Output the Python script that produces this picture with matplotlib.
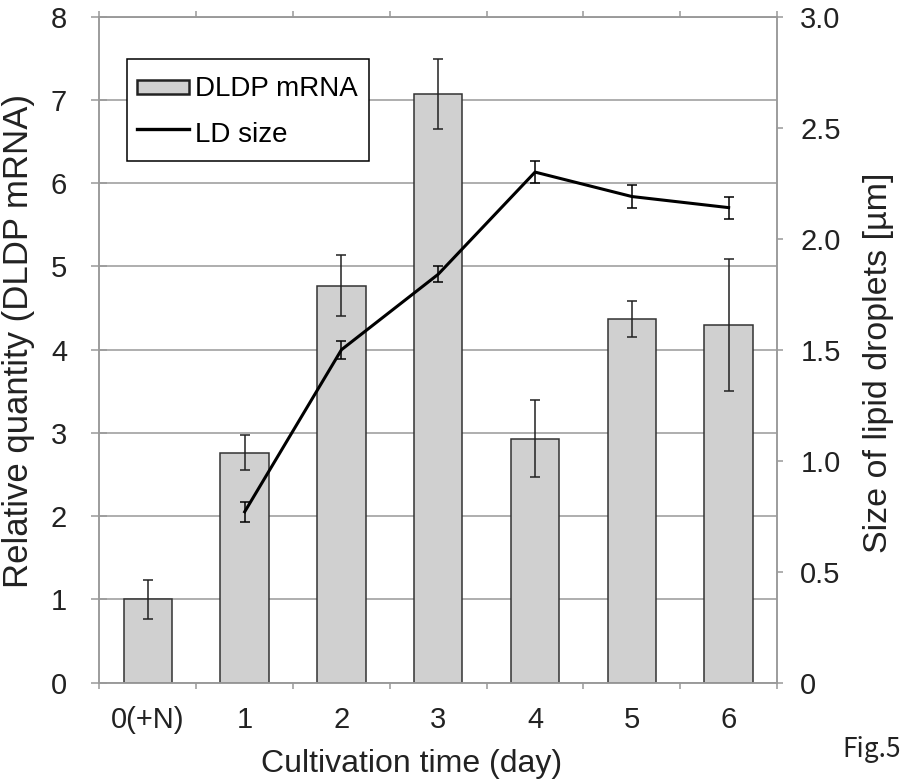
import matplotlib
matplotlib.use("Agg")
import matplotlib.pyplot as plt
from matplotlib.legend_handler import HandlerPatch
from matplotlib.patches import Rectangle
import numpy as np

plt.rcParams['font.family'] = ['Liberation Sans', 'DejaVu Sans']

# Cultivation days
day_labels = ['0(+N)', '1', '2', '3', '4', '5', '6']
# DLDP mRNA relative quantity (bars, left axis) and error
mrna = [1.00, 2.76, 4.77, 7.07, 2.93, 4.37, 4.30]
mrna_err = [0.23, 0.21, 0.37, 0.42, 0.46, 0.22, 0.79]
# Lipid droplet size in um (line, right axis), measured from day 1
ld_days = [1, 2, 3, 4, 5, 6]
ld_size = [0.77, 1.50, 1.84, 2.30, 2.19, 2.14]
ld_err = [0.045, 0.04, 0.037, 0.048, 0.05, 0.05]

gray = '#999999'
ink = '#222222'


def flat_box(legend, orig_handle, xdescent, ydescent, width, height, fontsize):
    # thinner legend swatch than the full handle box
    h = 0.5 * fontsize
    return Rectangle((-xdescent, -ydescent + (height - h) / 2), width, h)


def keep_style(handle, orig):
    handle.set_facecolor('#d0d0d0')
    handle.set_edgecolor('#222222')
    handle.set_linewidth(1.8)


fig = plt.figure(figsize=(9.07, 7.80), dpi=100)
ax = fig.add_axes([0.1097, 0.1247, 0.7470, 0.8539])

x = np.arange(len(day_labels))
bars = ax.bar(x, mrna, width=0.5, color='#d0d0d0', edgecolor='#333333',
              linewidth=1.1, zorder=2)
ax.errorbar(x, mrna, yerr=mrna_err, fmt='none', ecolor=ink, elinewidth=1.1,
            capsize=3.6, capthick=1.1, zorder=3)

ax.set_xlim(-0.5, 6.5)
ax.set_ylim(0, 8)
ax.set_yticks(range(9))
ax.yaxis.grid(True, color=gray, linewidth=1.1)
ax.set_axisbelow(True)

# category boundaries as major ticks, labels on minor ticks at the centres
ax.set_xticks(np.arange(-0.5, 7.0, 1.0))
ax.set_xticklabels([])
ax.set_xticks(x, minor=True)
ax.set_xticklabels(day_labels, minor=True)
ax.tick_params(axis='x', which='major', direction='out', length=4.5, width=1.1,
               color=gray, top=True)
ax.tick_params(axis='x', which='minor', length=0, pad=17, labelsize=21,
               labelcolor=ink)
ax.tick_params(axis='y', direction='inout', length=11.5, width=1.1, color=gray,
               pad=17.5, labelsize=21, labelcolor=ink)
for s in ax.spines.values():
    s.set_color(gray)
    s.set_linewidth(1.1)

ax.set_xlabel('Cultivation time (day)', fontsize=23, color=ink)
ax.xaxis.set_label_coords(0.461, -0.0995)
ax.set_ylabel('Relative quantity (DLDP mRNA)', fontsize=25, color=ink)
ax.yaxis.set_label_coords(-0.095, 0.513)

# right axis: lipid droplet size
ax2 = ax.twinx()
ax2.set_ylim(0, 3)
ax2.set_yticks(np.arange(0, 3.01, 0.5))
ax2.set_yticklabels(['0', '0.5', '1.0', '1.5', '2.0', '2.5', '3.0'])
line, = ax2.plot(ld_days, ld_size, color='black', linewidth=2.2, zorder=4)
ax2.errorbar(ld_days, ld_size, yerr=ld_err, fmt='none', ecolor='black',
             elinewidth=1.1, capsize=3.6, capthick=1.1, zorder=4)
ax2.tick_params(axis='y', direction='out', length=4.3, width=1.1, color=gray,
                pad=12.5, labelsize=21, labelcolor=ink)
for s in ax2.spines.values():
    s.set_color(gray)
    s.set_linewidth(1.1)
ax2.set_ylabel('Size of lipid droplets [µm]', fontsize=24.5, color=ink)
ax2.yaxis.set_label_coords(1.127, 0.48)

bar_handle = bars.patches[0]
leg = ax2.legend([bar_handle, line], ['DLDP mRNA', 'LD size'], loc='upper left',
                 bbox_to_anchor=(0.04, 0.936), borderaxespad=0, fontsize=20,
                 fancybox=False, edgecolor='black', framealpha=1,
                 handlelength=1.87, handleheight=1.5, handletextpad=0.22,
                 labelspacing=0.45, borderpad=0.38,
                 handler_map={bar_handle: HandlerPatch(patch_func=flat_box,
                                                       update_func=keep_style)})
leg.get_frame().set_linewidth(1.1)
leg.get_lines()[0].set_linewidth(2.4)

fig.text(842 / 907, (780 - 757) / 780, 'Fig.5', fontsize=19, color=ink,
         family=['Noto Sans CJK JP', 'DejaVu Sans'], ha='left', va='baseline')

fig.savefig('out.png', dpi=100)
